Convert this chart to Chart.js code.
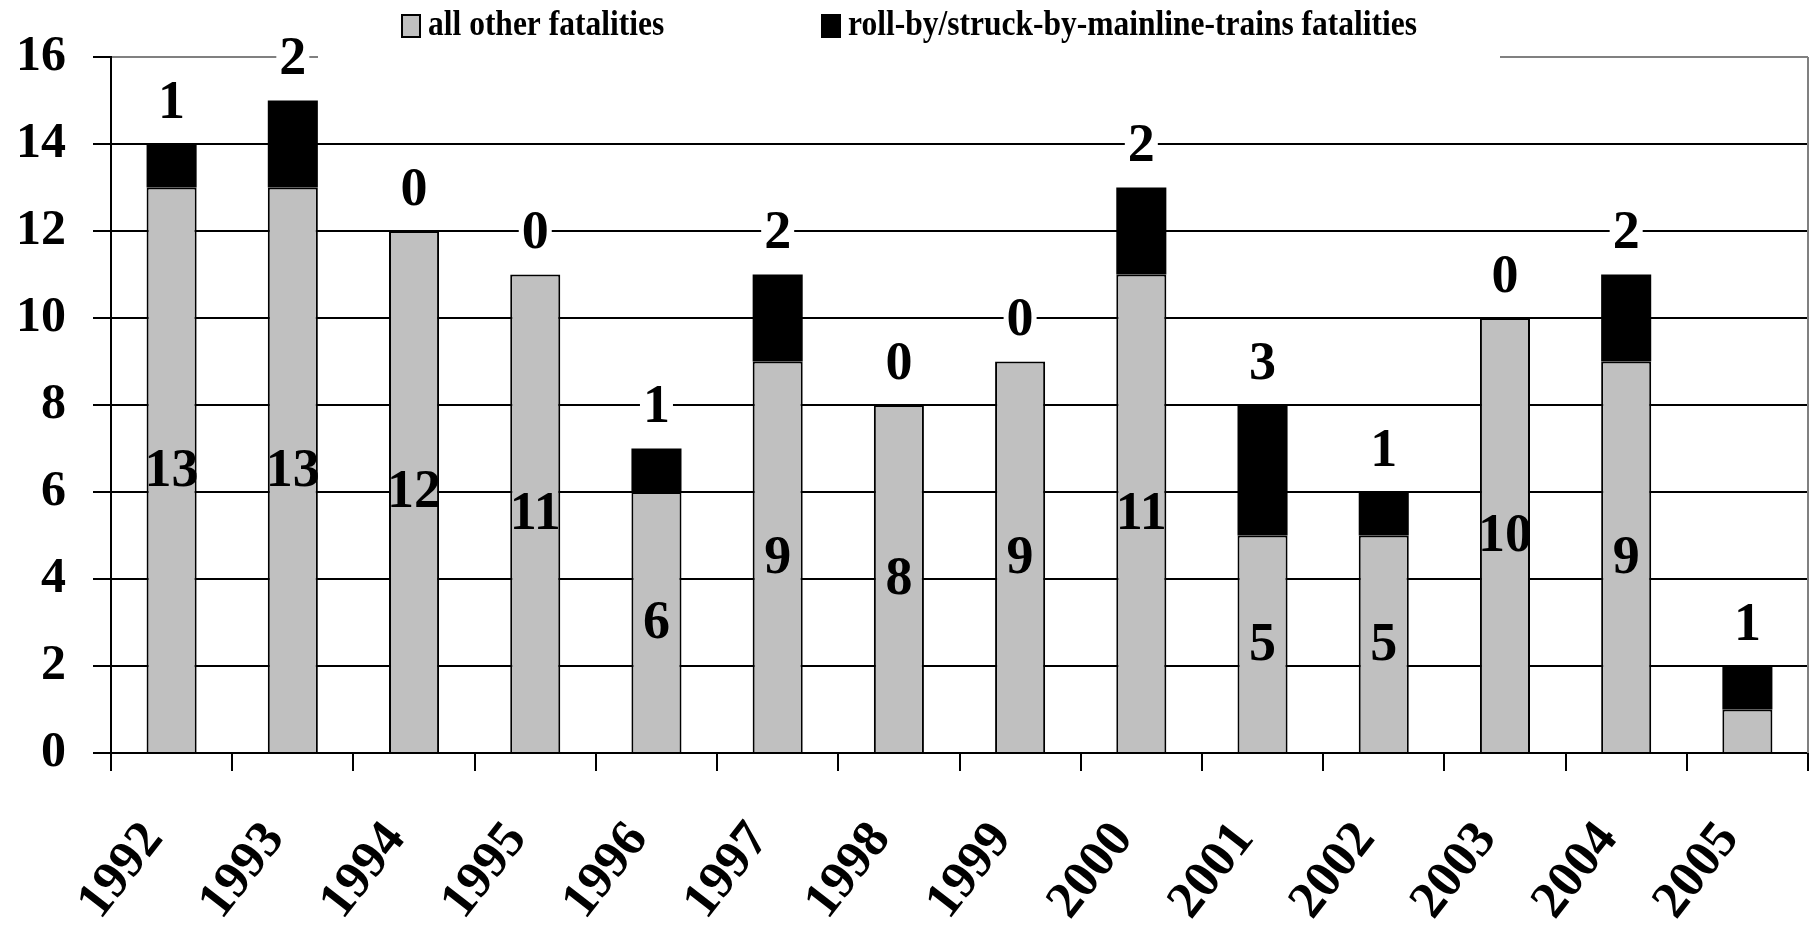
<!DOCTYPE html>
<html>
<head>
<meta charset="utf-8">
<script src="https://cdn.jsdelivr.net/npm/chart.js@4/dist/chart.umd.min.js"></script>
<style>
html,body{margin:0;padding:0;background:#fff;}
#wrap{width:1813px;height:930px;}
</style>
</head>
<body>
<div id="wrap"><canvas id="c" width="1813" height="930"></canvas></div>
<script>
// ---- data ----
const years = ['1992','1993','1994','1995','1996','1997','1998','1999','2000','2001','2002','2003','2004','2005'];
const allOtherFatalities = [13,13,12,11,6,9,8,9,11,5,5,10,9,1];
const rollByFatalities   = [1,2,0,0,1,2,0,0,2,3,1,0,2,1];
const seriesNames = ['all other fatalities','roll-by/struck-by-mainline-trains fatalities'];
const yTickValues = [0,2,4,6,8,10,12,14,16];

const FONT = "'Liberation Serif','Times New Roman',serif";
const GRAY = '#C0C0C0';

// ---- plugins ----
const decorPlugin = {
  id: 'decor',
  beforeDatasetsDraw(chart) {
    const {ctx, chartArea: a} = chart;
    ctx.save();
    ctx.strokeStyle = '#808080';
    ctx.lineWidth = 2;
    ctx.beginPath();
    ctx.moveTo(a.right, a.top);
    ctx.lineTo(a.right, a.bottom);
    ctx.stroke();
    ctx.restore();
  },
  afterDatasetsDraw(chart) {
    const {ctx} = chart;
    const fs = 54;
    ctx.save();
    ctx.font = 'bold ' + fs + 'px ' + FONT;
    ctx.textAlign = 'center';
    ctx.textBaseline = 'middle';
    ctx.fillStyle = '#000';
    // inner labels (all other fatalities)
    const m0 = chart.getDatasetMeta(0);
    m0.data.forEach((bar, i) => {
      const v = chart.data.datasets[0].data[i];
      const h = Math.abs(bar.base - bar.y);
      if (h < fs * 0.8) return;
      ctx.fillText(String(v), bar.x, (bar.y + bar.base) / 2 + 2);
    });
    // outer labels (roll-by), with white background
    const m1 = chart.getDatasetMeta(1);
    m1.data.forEach((bar, i) => {
      const v = chart.data.datasets[1].data[i];
      const t = String(v);
      const cy = bar.y - 42;
      const w = ctx.measureText(t).width + 6;
      ctx.fillStyle = '#fff';
      ctx.fillRect(bar.x - w / 2, cy - 21, w, 42);
      ctx.fillStyle = '#000';
      ctx.fillText(t, bar.x, cy + 2);
    });
    ctx.restore();
  },
  afterDraw(chart) {
    const {ctx} = chart;
    ctx.save();
    // legend background (overlaps plot top like the original)
    ctx.fillStyle = '#fff';
    ctx.fillRect(318, 0, 1500 - 318, 64);
    const textX = [428, 848];
    chart.data.datasets.forEach((ds, k) => {
      const bx = textX[k] - 26;
      ctx.fillStyle = ds.backgroundColor;
      ctx.fillRect(bx, 15, 18, 22);
      ctx.strokeStyle = '#000';
      ctx.lineWidth = 2;
      ctx.strokeRect(bx, 15, 18, 22);
      ctx.save();
      ctx.translate(textX[k], 25);
      ctx.scale(0.9, 1);
      ctx.font = 'bold 35px ' + FONT;
      ctx.textAlign = 'left';
      ctx.textBaseline = 'middle';
      ctx.fillStyle = '#000';
      ctx.fillText(ds.label, 0, 1);
      ctx.restore();
    });
    ctx.restore();
  }
};

new Chart(document.getElementById('c'), {
  type: 'bar',
  data: {
    labels: years,
    datasets: [
      {
        label: seriesNames[0],
        data: allOtherFatalities,
        backgroundColor: GRAY,
        borderColor: '#000',
        borderWidth: 2,
        barPercentage: 0.413,
        categoryPercentage: 1
      },
      {
        label: seriesNames[1],
        data: rollByFatalities,
        backgroundColor: '#000',
        borderColor: '#000',
        borderWidth: 0,
        barPercentage: 0.413,
        categoryPercentage: 1
      }
    ]
  },
  options: {
    responsive: false,
    devicePixelRatio: 1,
    animation: false,
    layout: { padding: { left: 0, right: 5, top: 56, bottom: 0 } },
    plugins: { legend: { display: false }, tooltip: { enabled: false } },
    scales: {
      x: {
        stacked: true,
        grid: { offset: true, drawOnChartArea: false, drawTicks: true, tickLength: 18, color: '#000', lineWidth: 2 },
        border: { display: true, color: '#000', width: 2 },
        ticks: {
          color: '#000',
          font: { family: FONT, weight: 'bold', size: 52 },
          minRotation: 52,
          maxRotation: 52,
          padding: 40,
          labelOffset: -18,
          autoSkip: false
        },
        afterFit(s) { s.height = 177; s.paddingLeft = 0; s.paddingRight = 0; }
      },
      y: {
        stacked: true,
        min: 0,
        max: 16,
        afterBuildTicks(s) { s.ticks = yTickValues.map(v => ({ value: v })); },
        grid: {
          color: (c) => (c.tick && c.tick.value === 16 ? '#808080' : '#000'),
          tickColor: '#000',
          lineWidth: 2,
          tickLength: 18
        },
        border: { display: true, color: '#000', width: 2 },
        ticks: {
          color: '#000',
          font: { family: FONT, weight: 'bold', size: 50 },
          padding: 27
        },
        afterFit(s) { s.width = 111; }
      }
    }
  },
  plugins: [decorPlugin]
});
</script>
</body>
</html>
